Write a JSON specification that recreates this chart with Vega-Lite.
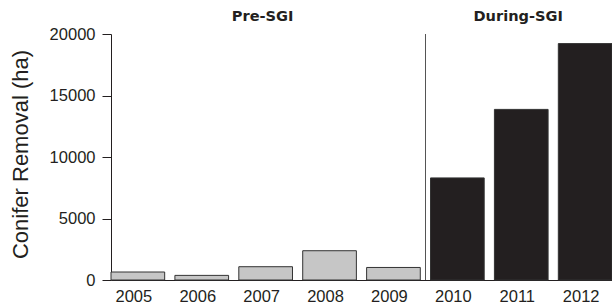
{
  "$schema": "https://vega.github.io/schema/vega-lite/v6.json",
  "width": 501,
  "height": 246,
  "autosize": {"type": "none"},
  "padding": {"left": 111, "top": 34, "right": 0, "bottom": 28},
  "config": {
    "view": {"stroke": null},
    "font": "Liberation Sans",
    "axis": {"grid": false, "domainColor": "#231f20", "tickColor": "#231f20", "labelColor": "#231f20", "titleColor": "#231f20", "labelFont": "Liberation Sans", "titleFont": "Liberation Sans"}
  },
  "data": {
    "values": [
      {"year": "2005", "ha": 650, "period": "Pre-SGI"},
      {"year": "2006", "ha": 375, "period": "Pre-SGI"},
      {"year": "2007", "ha": 1080, "period": "Pre-SGI"},
      {"year": "2008", "ha": 2380, "period": "Pre-SGI"},
      {"year": "2009", "ha": 1020, "period": "Pre-SGI"},
      {"year": "2010", "ha": 8300, "period": "During-SGI"},
      {"year": "2011", "ha": 13870, "period": "During-SGI"},
      {"year": "2012", "ha": 19220, "period": "During-SGI"}
    ]
  },
  "layer": [
    {
      "mark": {"type": "bar", "stroke": "#333333", "strokeWidth": 1},
      "encoding": {
        "x": {
          "field": "year", "type": "ordinal",
          "scale": {"paddingInner": 0.16, "paddingOuter": 0},
          "axis": {"title": null, "labelAngle": 0, "ticks": false, "labelFontSize": 16.5, "labelPadding": 8.5, "labelOffset": -4, "domainWidth": 1}
        },
        "y": {
          "field": "ha", "type": "quantitative",
          "scale": {"domain": [0, 20000], "nice": false},
          "axis": {
            "title": "Conifer Removal (ha)", "values": [0, 5000, 10000, 15000, 20000],
            "format": "d", "labelFontSize": 16.5, "tickSize": 9, "labelPadding": 7,
            "titleFontSize": 22, "titleFontWeight": "normal",
            "titleX": -91, "titleY": 120, "titleAngle": -90, "titleAlign": "center", "titleBaseline": "middle"
          }
        },
        "color": {
          "field": "period", "type": "nominal",
          "scale": {"domain": ["Pre-SGI", "During-SGI"], "range": ["#c6c6c6", "#231f20"]},
          "legend": null
        }
      }
    },
    {
      "mark": {"type": "rule", "color": "#555555", "strokeWidth": 1, "xOffset": -5},
      "encoding": {"x": {"datum": "2010", "type": "ordinal", "bandPosition": 0}}
    },
    {
      "data": {"values": [{"label": "Pre-SGI", "year": "2007"}, {"label": "During-SGI", "year": "2011"}]},
      "mark": {"type": "text", "font": "DejaVu Sans", "fontWeight": "bold", "fontSize": 14.6, "color": "#231f20", "dy": -13.3, "dx": -3, "baseline": "alphabetic"},
      "encoding": {
        "x": {"field": "year", "type": "ordinal"},
        "y": {"datum": 20000, "type": "quantitative"},
        "text": {"field": "label"}
      }
    }
  ]
}
